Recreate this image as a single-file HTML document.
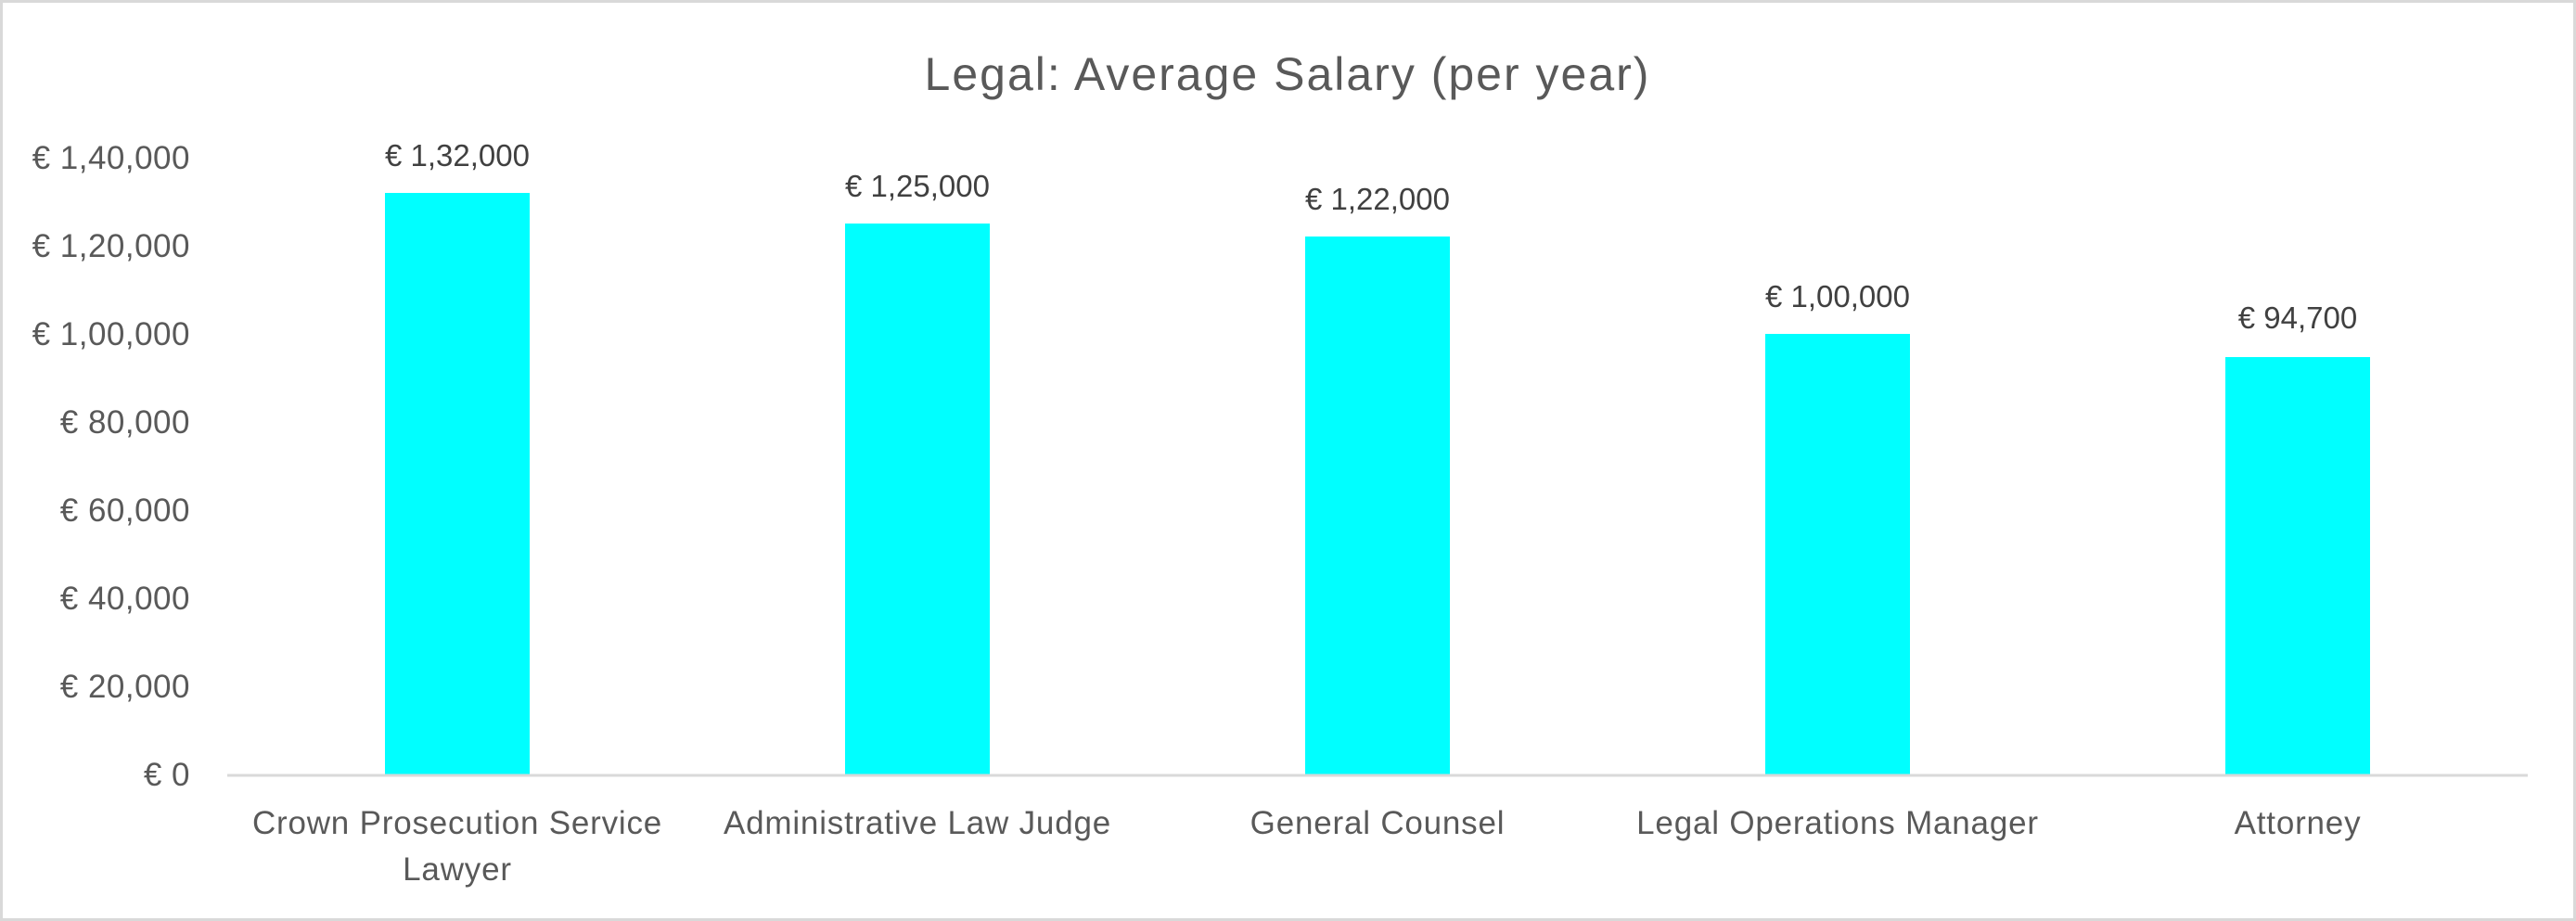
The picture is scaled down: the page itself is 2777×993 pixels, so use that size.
<!DOCTYPE html>
<html><head><meta charset="utf-8"><style>
html,body{margin:0;padding:0;background:#fff}
svg{display:block}
text{font-family:"Liberation Sans",sans-serif}
</style></head><body>
<svg width="2777" height="993" viewBox="0 0 2777 993" xmlns="http://www.w3.org/2000/svg">
<rect x="1.5" y="1.5" width="2774" height="990" fill="#fff" stroke="#d9d9d9" stroke-width="3"/>
<text x="1388" y="97" font-size="50" fill="#595959" text-anchor="middle" letter-spacing="2">Legal: Average Salary (per year)</text>
<g font-size="35" fill="#595959" text-anchor="end" letter-spacing="0.5">
<text x="205" y="182">€ 1,40,000</text>
<text x="205" y="277">€ 1,20,000</text>
<text x="205" y="372">€ 1,00,000</text>
<text x="205" y="467">€ 80,000</text>
<text x="205" y="562">€ 60,000</text>
<text x="205" y="657">€ 40,000</text>
<text x="205" y="752">€ 20,000</text>
<text x="205" y="847">€ 0</text>
</g>
<g fill="#00ffff">
<rect x="415" y="208" width="156" height="627"/>
<rect x="911" y="241" width="156" height="594"/>
<rect x="1407" y="255" width="156" height="580"/>
<rect x="1903" y="360" width="156" height="475"/>
<rect x="2399" y="385" width="156" height="450"/>
</g>
<line x1="245" y1="836" x2="2725" y2="836" stroke="#d9d9d9" stroke-width="3"/>
<g font-size="33" fill="#404040" text-anchor="middle">
<text x="493" y="179">€ 1,32,000</text>
<text x="989" y="212">€ 1,25,000</text>
<text x="1485" y="226">€ 1,22,000</text>
<text x="1981" y="331">€ 1,00,000</text>
<text x="2477" y="354">€ 94,700</text>
</g>
<g font-size="35" fill="#595959" text-anchor="middle" letter-spacing="0.8">
<text x="493" y="899">Crown Prosecution Service</text>
<text x="493" y="949">Lawyer</text>
<text x="989" y="899">Administrative Law Judge</text>
<text x="1485" y="899">General Counsel</text>
<text x="1981" y="899">Legal Operations Manager</text>
<text x="2477" y="899">Attorney</text>
</g>
</svg>
</body></html>
